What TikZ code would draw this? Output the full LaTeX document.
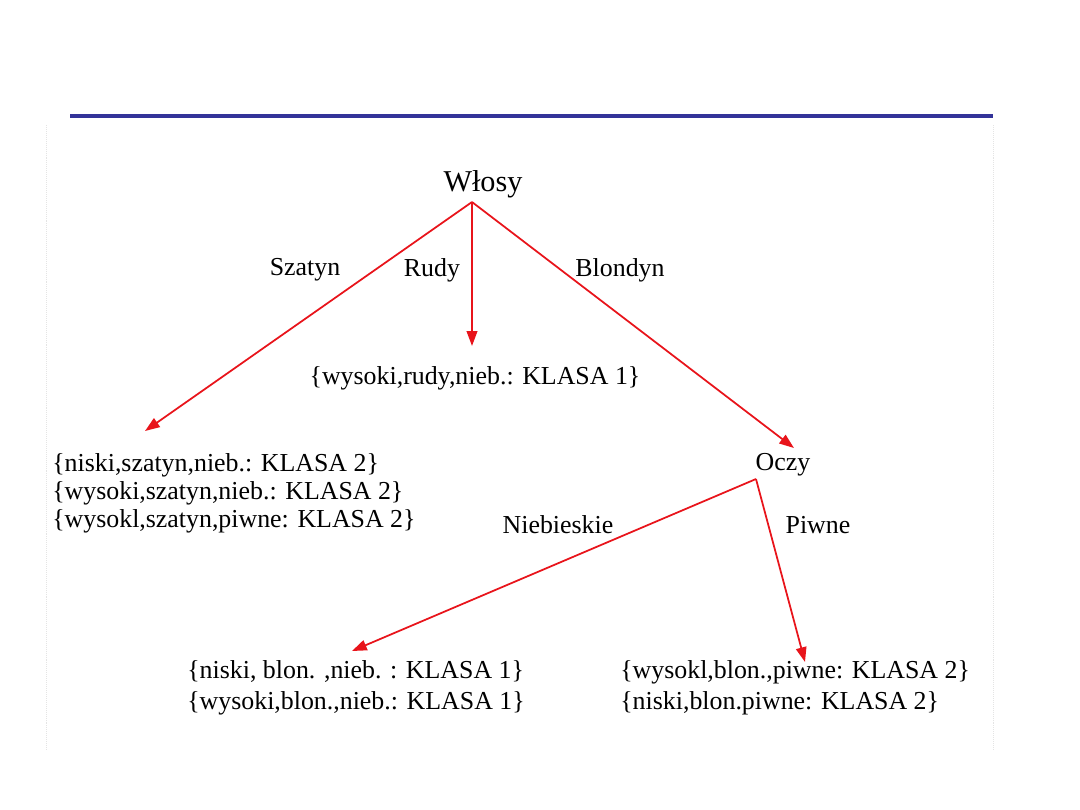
\documentclass[tikz,border=0pt]{standalone}
\usepackage{fontspec}
\setmainfont{Liberation Serif}
\usetikzlibrary{positioning, arrows.meta, calc}
\definecolor{cRule}{HTML}{333399}
\definecolor{cEdge}{HTML}{E8141B}
\definecolor{cFrame}{HTML}{E4E4E4}

\begin{document}
\begin{tikzpicture}[
  x=0.025cm, y=-0.025cm,
  treetext/.style={
    font=\fontsize{18.4}{20}\selectfont, inner sep=0pt
  },
  leafset/.style={
    treetext, align=left, anchor=west
  },
  branch/.style={
    draw=cEdge, line width=1.25pt,
    -{Triangle[length=10.5pt,width=7.5pt]}
  },
]
\useasboundingbox (0,0) rectangle (1080,810);

% FRAME
\draw[cRule, line width=2.8pt] (70,116) -- (993,116);
\draw[cFrame, densely dotted] (46,125) -- (46,750) (993,125) -- (993,750);

% ROOT: Wlosy
\node[treetext, font=\fontsize{21.5}{24}\selectfont] (wlosy) at (483,184) {Włosy};
\coordinate (wlosyfork) at (472,202);

\node[treetext] (szatynlabel) at (305,270) {Szatyn};
\node[treetext] (rudylabel) at (432,270) {Rudy};
\node[treetext] (blondynlabel) at (620,270) {Blondyn};

\node[treetext] (rudyleaf) at (475,378) {\{wysoki,rudy,nieb.: KLASA 1\}};
\coordinate (rudytip) at (472,346);

\node[leafset] (szatynleaf) at (52,493) {%
  \{niski,szatyn,nieb.: KLASA 2\}\\
  \{wysoki,szatyn,nieb.: KLASA 2\}\\
  \{wysokl,szatyn,piwne: KLASA 2\}};
\coordinate (szatyntip) at (145,431);

% OCZY
\node[treetext] (oczy) at (783,465) {Oczy};
\coordinate (blondyntip) at (794,448);
\coordinate (oczyfork) at (756,479);

\node[treetext] (niebieskielabel) at (558,525) {Niebieskie};
\node[treetext] (piwnelabel) at (818,525) {Piwne};

\node[leafset] (niebieskieleaf) at (187,688) {%
  \{niski, blon. ,nieb. : KLASA 1\}\\[2pt]
  \{wysoki,blon.,nieb.: KLASA 1\}};
\coordinate (niebieskietip) at (352,651);

\node[leafset] (piwneleaf) at (620,688) {%
  \{wysokl,blon.,piwne: KLASA 2\}\\[2pt]
  \{niski,blon.piwne: KLASA 2\}};
\coordinate (piwnetip) at (805,662);

% BRANCHES
\draw[branch] (wlosyfork) -- (szatyntip);
\draw[branch] (wlosyfork) -- (rudytip);
\draw[branch] (wlosyfork) -- (blondyntip);
\draw[branch] (oczyfork) -- (niebieskietip);
\draw[branch] (oczyfork) -- (piwnetip);

\end{tikzpicture}
\end{document}
